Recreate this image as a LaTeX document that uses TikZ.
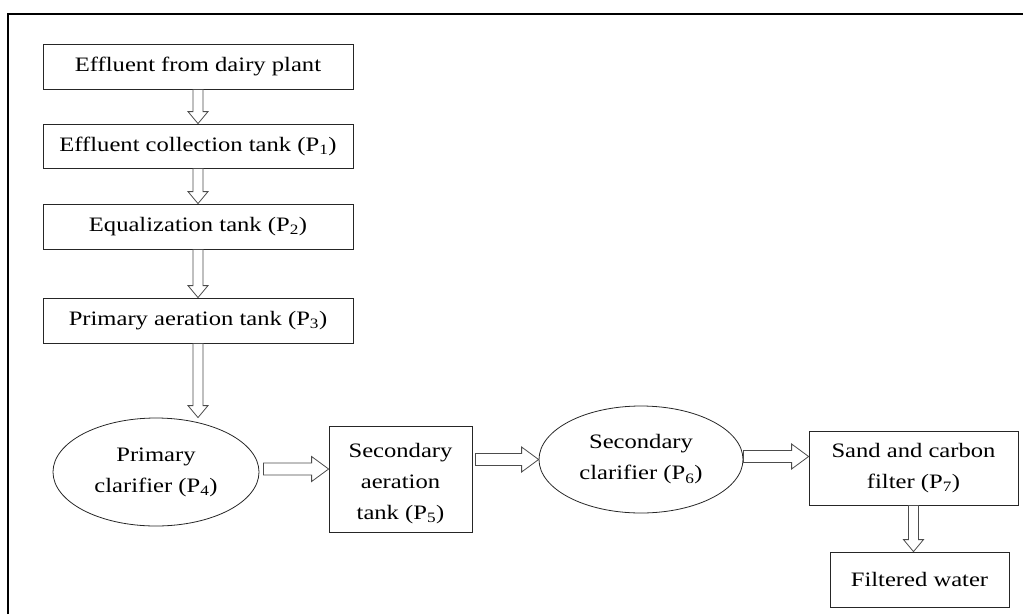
\documentclass[tikz,border=0pt]{standalone}
\usepackage{fontspec}
\setmainfont{Liberation Serif}[FakeStretch=1.2]
\usetikzlibrary{shapes.geometric,calc}
\tikzset{
  procbox/.style={draw=black!85, line width=0.8pt, rectangle, inner sep=0pt, align=center,
    font=\fontsize{20.5}{31}\selectfont, text=black},
  procell/.style={draw=black!85, line width=0.8pt, ellipse, inner sep=0pt, align=center,
    font=\fontsize{20.5}{31}\selectfont, text=black},
  flowarrow/.style={draw=black!70, line width=0.8pt, fill=white, line join=miter},
  frameline/.style={draw=black, line width=1.6pt}
}
\newcommand{\flowdown}[2]{%
  \path[flowarrow] let \p1=(#1), \p2=(#2) in
    (\x1-5pt,\y1) -- (\x1-5pt,\y2+12pt) -- (\x1-10pt,\y2+12pt) -- (\x1,\y2)
    -- (\x1+10pt,\y2+12pt) -- (\x1+5pt,\y2+12pt) -- (\x1+5pt,\y1) -- cycle;}
\newcommand{\flowright}[2]{%
  \path[flowarrow] let \p1=(#1), \p2=(#2) in
    (\x1,\y1+6pt) -- (\x2-17pt,\y1+6pt) -- (\x2-17pt,\y1+12.5pt) -- (\x2,\y1)
    -- (\x2-17pt,\y1-12.5pt) -- (\x2-17pt,\y1-6pt) -- (\x1,\y1-6pt) -- cycle;}
\begin{document}
\begin{tikzpicture}[x=1pt,y=-1pt]
\useasboundingbox (0,0) rectangle (1023,614);
\draw[frameline] (8,614) coordinate (fl) -- (8,14) coordinate (fc) -- (1023,14) coordinate (fr);

\node[procbox, minimum width=310pt, minimum height=45pt] (b1) at (198,66.5) {Effluent from dairy plant};
\node[procbox, minimum width=310pt, minimum height=44pt] (b2) at (198,146) {Effluent collection tank (P\textsubscript{1})};
\node[procbox, minimum width=310pt, minimum height=45pt] (b3) at (198,226.5) {Equalization tank (P\textsubscript{2})};
\node[procbox, minimum width=310pt, minimum height=45pt] (b4) at (198,320.5) {Primary aeration tank (P\textsubscript{3})};

\node[procell, minimum width=206pt, minimum height=108pt] (pc) at (156,472) {Primary\\clarifier (P\textsubscript{4})};
\node[procbox, minimum width=143pt, minimum height=106pt] (sa) at (400.5,479) {\rule{0pt}{24pt}Secondary\\aeration\\tank (P\textsubscript{5})};
\node[procell, minimum width=204pt, minimum height=107pt] (sc) at (641,459.5) {Secondary\\clarifier (P\textsubscript{6})};
\node[procbox, minimum width=209pt, minimum height=74pt] (sf) at (913.5,468) {Sand and carbon\\filter (P\textsubscript{7})};
\node[procbox, minimum width=179pt, minimum height=55pt] (fw) at (919.5,579.5) {Filtered water};

\flowdown{b1.south}{b2.north}
\flowdown{b2.south}{b3.north}
\flowdown{b3.south}{b4.north}
\flowdown{b4.south}{b4.south |- pc.north}
\flowright{$(pc.east)+(4,-3)$}{sa.west}
\flowright{$(sa.east |- sc.west)+(3,0)$}{sc.west}
\flowright{$(sc.east)+(0,-3)$}{sf.west}
\flowdown{sf.south}{sf.south |- fw.north}
\end{tikzpicture}
\end{document}
